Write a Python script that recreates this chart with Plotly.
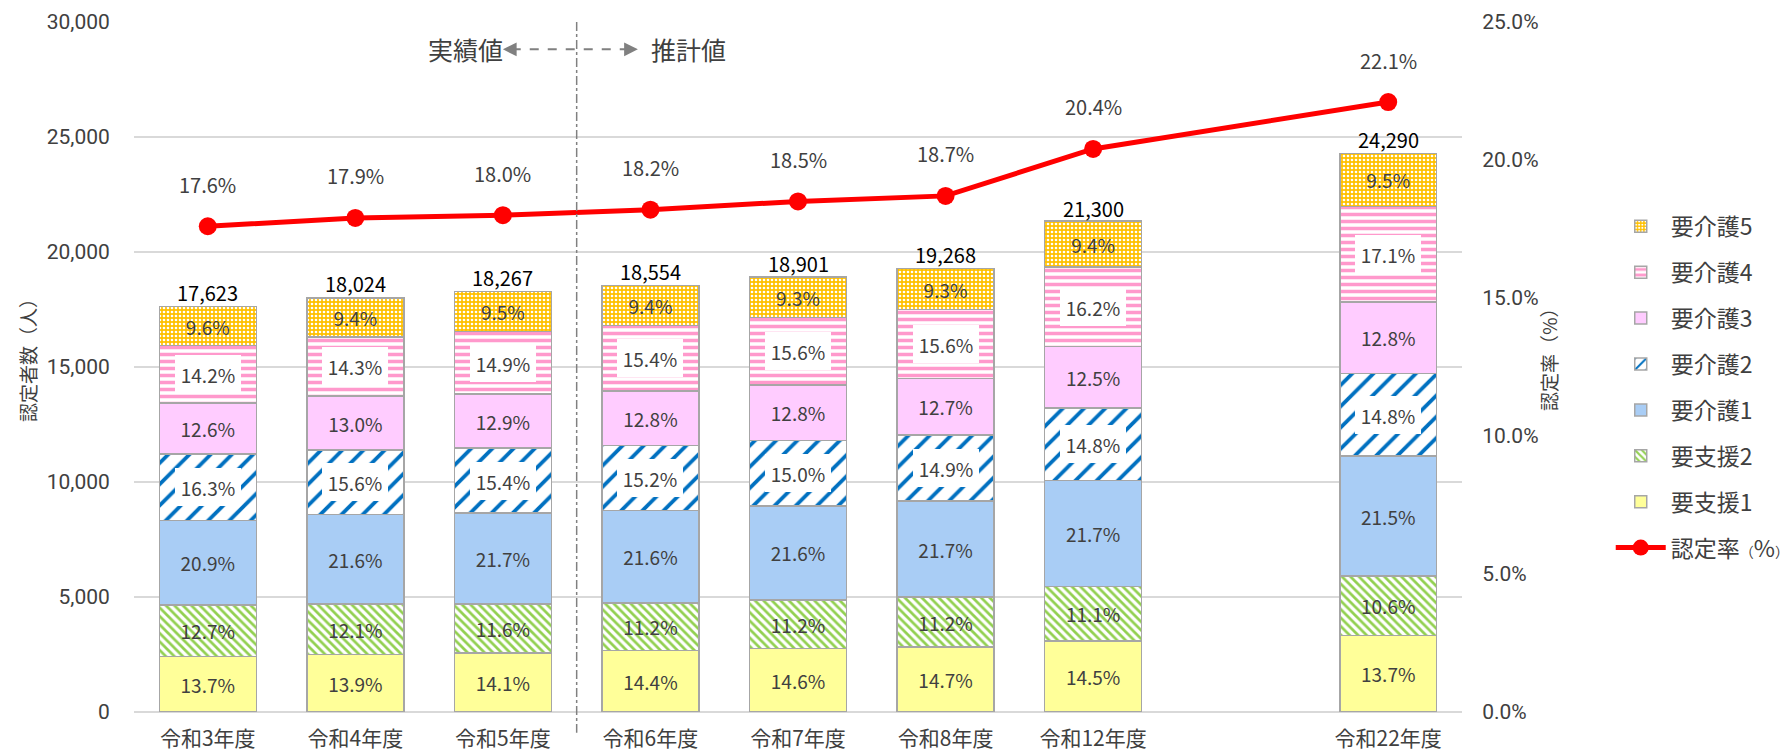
import plotly.graph_objects as go

# ---------------- data ----------------
categories = ["令和3年度", "令和4年度", "令和5年度", "令和6年度", "令和7年度",
              "令和8年度", "令和12年度", " ", "令和22年度"]
bar_categories = ["令和3年度", "令和4年度", "令和5年度", "令和6年度", "令和7年度",
                  "令和8年度", "令和12年度", "令和22年度"]
totals = [17623, 18024, 18267, 18554, 18901, 19268, 21300, 24290]

share_support1 = [13.7, 13.9, 14.1, 14.4, 14.6, 14.7, 14.5, 13.7]
share_support2 = [12.7, 12.1, 11.6, 11.2, 11.2, 11.2, 11.1, 10.6]
share_care1 = [20.9, 21.6, 21.7, 21.6, 21.6, 21.7, 21.7, 21.5]
share_care2 = [16.3, 15.6, 15.4, 15.2, 15.0, 14.9, 14.8, 14.8]
share_care3 = [12.6, 13.0, 12.9, 12.8, 12.8, 12.7, 12.5, 12.8]
share_care4 = [14.2, 14.3, 14.9, 15.4, 15.6, 15.6, 16.2, 17.1]
share_care5 = [9.6, 9.4, 9.5, 9.4, 9.3, 9.3, 9.4, 9.5]

rate = [17.6, 17.9, 18.0, 18.2, 18.5, 18.7, 20.4, None, 22.1]

FONT = "Noto Sans CJK JP"
NUMFONT = "Roboto"
TXT = "#404040"

series = [
    # name, shares, bg, shape, fg, size, solidity, boxed, legendrank
    ("要支援1", share_support1, "#FFFF99", "", "#FFFF99", 8, 0.3, False, 7),
    ("要支援2", share_support2, "#FFFFFF", "\\", "#92D050", 6, 0.45, False, 6),
    ("要介護1", share_care1, "#A9CDF5", "", "#A9CDF5", 8, 0.3, False, 5),
    ("要介護2", share_care2, "#FFFFFF", "/", "#0070C0", 15, 0.25, True, 4),
    ("要介護3", share_care3, "#FFCCFF", "", "#FFCCFF", 8, 0.3, False, 3),
    ("要介護4", share_care4, "#FFFFFF", "-", "#FF99CC", 7, 0.5, True, 2),
    ("要介護5", share_care5, "#FFC000", ".", "#FFFFFF", 4, 0.35, False, 1),
]

fig = go.Figure()
annotations = []
cum = [0.0] * len(totals)

for name, shares, bg, shape, fg, size, sol, boxed, rank in series:
    vals = [t * s / 100.0 for t, s in zip(totals, shares)]
    labels = [f"{s:.1f}%" for s in shares]
    marker = dict(color=bg, line=dict(color="#A6A6A6", width=1.5))
    if shape:
        marker["pattern"] = dict(shape=shape, fgcolor=fg, bgcolor=bg, size=size,
                                 solidity=sol, fillmode="replace")
    fig.add_trace(go.Bar(
        x=bar_categories, y=vals, name=name, marker=marker,
        text=None if boxed else labels,
        textposition="inside", insidetextanchor="middle",
        textfont=dict(family=FONT, size=19, color=TXT),
        constraintext="none", textangle=0,
        legendgroup=name, legendrank=rank, hoverinfo="name+y",
    ))
    if boxed:
        for c, base, v, lab in zip(bar_categories, cum, vals, labels):
            annotations.append(dict(
                x=c, y=base + v / 2, xref="x", yref="y", text=lab, showarrow=False,
                xanchor="center", yanchor="middle",
                font=dict(family=FONT, size=19, color=TXT),
                bgcolor="#FFFFFF", width=62, height=34, borderpad=2, borderwidth=0,
            ))
    cum = [a + b for a, b in zip(cum, vals)]

fig.add_trace(go.Scatter(
    x=categories, y=rate, yaxis="y2",
    name="認定率<span style='font-size:14px'>（</span>%<span style='font-size:14px'>）</span>",
    mode="lines+markers", connectgaps=True,
    line=dict(color="#FF0000", width=5),
    marker=dict(color="#FF0000", size=18),
    legendgroup="rate", legendrank=8,
))

# total labels
for c, t in zip(bar_categories, totals):
    annotations.append(dict(
        x=c, y=t, xref="x", yref="y", text=f"{t:,}", showarrow=False,
        xanchor="center", yanchor="middle", yshift=14,
        font=dict(family=FONT, size=20, color="#000000"),
    ))

# rate labels
for c, r in zip(categories, rate):
    if r is None:
        continue
    annotations.append(dict(
        x=c, y=r, xref="x", yref="y2", text=f"{r:.1f}%", showarrow=False,
        xanchor="center", yanchor="middle", yshift=42,
        font=dict(family=FONT, size=20, color=TXT),
    ))

# axis titles
annotations.append(dict(
    x=-0.0806, y=0.5, xref="paper", yref="paper", text="認定者数（人）",
    xanchor="center", yanchor="middle", yshift=12,
    textangle=-90, showarrow=False, font=dict(family=FONT, size=19, color=TXT),
))
annotations.append(dict(
    x=1.0648, y=0.5, xref="paper", yref="paper", text="認定率（%）",
    xanchor="center", yanchor="middle", yshift=12,
    textangle=-90, showarrow=False, font=dict(family=FONT, size=19, color=TXT),
))

# 実績値 / 推計値 markers
ARROW_Y = 0.9604
annotations.append(dict(
    x=2.5, y=ARROW_Y, xref="x", yref="paper", text="実績値", showarrow=False,
    xanchor="right", yanchor="middle", xshift=-72,
    font=dict(family=FONT, size=25, color=TXT),
))
annotations.append(dict(
    x=2.5, y=ARROW_Y, xref="x", yref="paper", text="推計値", showarrow=False,
    xanchor="left", yanchor="middle", xshift=72,
    font=dict(family=FONT, size=25, color=TXT),
))
for tip, off in ((2.0, 12), (2.915, -12)):
    annotations.append(dict(
        x=tip, y=ARROW_Y, xref="x", yref="paper", text="", showarrow=True,
        ax=off, ay=0, axref="pixel", ayref="pixel",
        arrowhead=2, arrowsize=1.1, arrowwidth=2.5, arrowcolor="#808080",
    ))

shapes = [
    dict(type="line", xref="x", yref="paper", x0=2.5, x1=2.5, y0=1.0, y1=-0.03,
         line=dict(color="#808080", width=1.5, dash="dashdot")),
    dict(type="line", xref="x", yref="paper", x0=2.06, x1=2.855, y0=ARROW_Y, y1=ARROW_Y,
         line=dict(color="#808080", width=2, dash="dash")),
]

# the page body adds an 8px margin, so the figure is placed 8px in from the top-left
fig.update_layout(
    width=1784, height=745,
    margin=dict(l=126, r=330, t=14, b=41, autoexpand=False),
    plot_bgcolor="#FFFFFF", paper_bgcolor="#FFFFFF",
    barmode="stack", bargap=0.343,
    font=dict(family=FONT, color=TXT),
    xaxis=dict(type="category", categoryorder="array", categoryarray=categories,
               range=[-0.5, 8.5], showgrid=False, showline=False, zeroline=False,
               automargin=False,
               ticks="outside", tickcolor="rgba(0,0,0,0)", ticklen=8,
               tickfont=dict(family=FONT, size=21, color=TXT)),
    yaxis=dict(range=[0, 30000], dtick=5000, tickformat=",", showgrid=True,
               gridcolor="#D9D9D9", gridwidth=1.5, zeroline=True, automargin=False,
               zerolinecolor="#D9D9D9", zerolinewidth=1.5, showline=False,
               ticklabeloverflow="allow",
               ticks="outside", tickcolor="rgba(0,0,0,0)", ticklen=19,
               tickfont=dict(family=NUMFONT, size=21, color=TXT)),
    yaxis2=dict(overlaying="y", side="right", range=[0, 25], dtick=5,
                tickformat=".1f", ticksuffix="%", showgrid=False, zeroline=False,
                automargin=False, ticklabeloverflow="allow",
                showline=False, ticks="outside", tickcolor="rgba(0,0,0,0)",
                ticklen=15, tickfont=dict(family=NUMFONT, size=21, color=TXT)),
    legend=dict(x=1.112, y=0.735, xanchor="left", yanchor="top",
                font=dict(family=FONT, size=23, color=TXT),
                tracegroupgap=13, bgcolor="rgba(0,0,0,0)", itemwidth=50),
    annotations=annotations,
    shapes=shapes,
    showlegend=True,
)

fig.write_html("out.html")
